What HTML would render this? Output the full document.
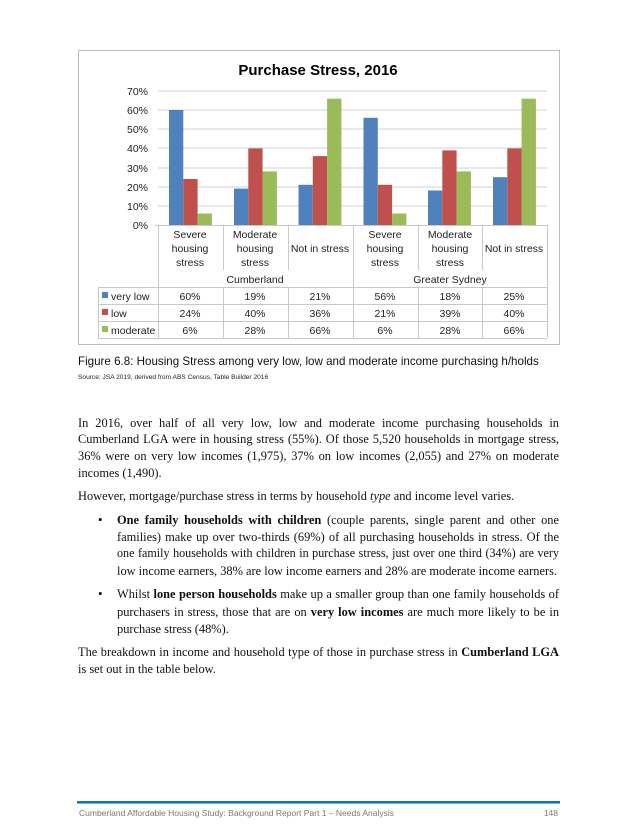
<!DOCTYPE html>
<html><head><meta charset="utf-8"><style>
body{margin:0;background:#fff;}
.page{position:relative;width:637px;height:840px;overflow:hidden;background:#fff;}
.l{position:absolute;left:78px;width:481px;height:18px;line-height:18px;font-family:"Liberation Serif",serif;font-size:12.4px;color:#111;white-space:nowrap;text-align:justify;text-align-last:justify;}
.l.e{text-align-last:left;}
.b{left:117px;width:442px;}
.dot{position:absolute;left:98px;font-family:"Liberation Serif",serif;font-size:13px;line-height:18px;}
.cap{position:absolute;left:78px;top:355px;font-family:"Liberation Sans",sans-serif;font-size:11.6px;color:#111;}
.src{position:absolute;left:78px;top:374px;font-family:"Liberation Sans",sans-serif;font-size:6.6px;color:#222;}
</style></head><body><div class="page">
<svg width="637" height="360" style="position:absolute;left:0;top:0" font-family="Liberation Sans, sans-serif">
<rect x="78.5" y="50.5" width="481" height="294" fill="#fff" stroke="#bbb"/>
<text x="318" y="75" text-anchor="middle" font-size="15" font-weight="bold">Purchase Stress, 2016</text>
<g stroke="#d0d0d0" stroke-width="1">
<line x1="158" y1="91" x2="547" y2="91"/><line x1="158" y1="110" x2="547" y2="110"/><line x1="158" y1="129" x2="547" y2="129"/><line x1="158" y1="148" x2="547" y2="148"/><line x1="158" y1="168" x2="547" y2="168"/><line x1="158" y1="187" x2="547" y2="187"/><line x1="158" y1="206" x2="547" y2="206"/>
</g>
<g font-size="10.5" fill="#222" text-anchor="end">
<text x="148" y="95">70%</text><text x="148" y="114">60%</text><text x="148" y="133">50%</text><text x="148" y="152">40%</text><text x="148" y="172">30%</text><text x="148" y="191">20%</text><text x="148" y="210">10%</text><text x="148" y="229">0%</text>
</g>
<g>
<rect x="169" y="110" width="14.3" height="115" fill="#4f81bd"/><rect x="183.3" y="179" width="14.3" height="46" fill="#c0504d"/><rect x="197.6" y="213.5" width="14.3" height="11.5" fill="#9bbb59"/>
<rect x="234" y="188.6" width="14.3" height="36.4" fill="#4f81bd"/><rect x="248.3" y="148.4" width="14.3" height="76.6" fill="#c0504d"/><rect x="262.6" y="171.4" width="14.3" height="53.6" fill="#9bbb59"/>
<rect x="298.5" y="184.8" width="14.3" height="40.2" fill="#4f81bd"/><rect x="312.8" y="156.1" width="14.3" height="68.9" fill="#c0504d"/><rect x="327.1" y="98.7" width="14.3" height="126.3" fill="#9bbb59"/>
<rect x="363.5" y="117.8" width="14.3" height="107.2" fill="#4f81bd"/><rect x="377.8" y="184.8" width="14.3" height="40.2" fill="#c0504d"/><rect x="392.1" y="213.5" width="14.3" height="11.5" fill="#9bbb59"/>
<rect x="428" y="190.5" width="14.3" height="34.5" fill="#4f81bd"/><rect x="442.3" y="150.4" width="14.3" height="74.6" fill="#c0504d"/><rect x="456.6" y="171.4" width="14.3" height="53.6" fill="#9bbb59"/>
<rect x="493" y="177.2" width="14.3" height="47.8" fill="#4f81bd"/><rect x="507.3" y="148.4" width="14.3" height="76.6" fill="#c0504d"/><rect x="521.6" y="98.7" width="14.3" height="126.3" fill="#9bbb59"/>
</g>
<g stroke="#c8c8c8" stroke-width="1" fill="none">
<line x1="155" y1="225.5" x2="547" y2="225.5"/>
<line x1="158.5" y1="225" x2="158.5" y2="338"/><line x1="547.5" y1="225" x2="547.5" y2="338"/>
<line x1="223.5" y1="225" x2="223.5" y2="270"/><line x1="288.5" y1="225" x2="288.5" y2="270"/><line x1="418.5" y1="225" x2="418.5" y2="270"/><line x1="482.5" y1="225" x2="482.5" y2="270"/>
<line x1="353.5" y1="225" x2="353.5" y2="338"/>
<line x1="223.5" y1="287" x2="223.5" y2="338"/><line x1="288.5" y1="287" x2="288.5" y2="338"/><line x1="418.5" y1="287" x2="418.5" y2="338"/><line x1="482.5" y1="287" x2="482.5" y2="338"/>
<line x1="98" y1="287.5" x2="547" y2="287.5"/><line x1="98" y1="304.5" x2="547" y2="304.5"/><line x1="98" y1="321.5" x2="547" y2="321.5"/><line x1="98" y1="338.5" x2="547" y2="338.5"/>
<line x1="98.5" y1="287" x2="98.5" y2="338"/>
</g>
<g font-size="10.5" fill="#222" text-anchor="middle">
<text x="190" y="238">Severe</text><text x="190" y="252">housing</text><text x="190" y="266">stress</text>
<text x="255" y="238">Moderate</text><text x="255" y="252">housing</text><text x="255" y="266">stress</text>
<text x="320" y="252">Not in stress</text>
<text x="385" y="238">Severe</text><text x="385" y="252">housing</text><text x="385" y="266">stress</text>
<text x="450" y="238">Moderate</text><text x="450" y="252">housing</text><text x="450" y="266">stress</text>
<text x="514" y="252">Not in stress</text>
<text x="255" y="283">Cumberland</text><text x="450" y="283">Greater Sydney</text>
<text x="190" y="300">60%</text><text x="255" y="300">19%</text><text x="320" y="300">21%</text><text x="385" y="300">56%</text><text x="450" y="300">18%</text><text x="514" y="300">25%</text>
<text x="190" y="317">24%</text><text x="255" y="317">40%</text><text x="320" y="317">36%</text><text x="385" y="317">21%</text><text x="450" y="317">39%</text><text x="514" y="317">40%</text>
<text x="190" y="334">6%</text><text x="255" y="334">28%</text><text x="320" y="334">66%</text><text x="385" y="334">6%</text><text x="450" y="334">28%</text><text x="514" y="334">66%</text>
</g>
<rect x="102" y="292" width="6" height="6" fill="#4f81bd"/><rect x="102" y="309" width="6" height="6" fill="#c0504d"/><rect x="102" y="326" width="6" height="6" fill="#9bbb59"/>
<g font-size="10.5" fill="#222"><text x="111" y="300">very low</text><text x="111" y="317">low</text><text x="111" y="334">moderate</text></g>
</svg>
<div class="cap">Figure 6.8: Housing Stress among very low, low and moderate income purchasing h/holds</div>
<div class="src">Source: JSA 2019, derived from ABS Census, Table Builder 2016</div>

<div class="l" style="top:414px">In 2016, over half of all very low, low and moderate income purchasing households in</div>
<div class="l" style="top:430px">Cumberland LGA were in housing stress (55%). Of those 5,520 households in mortgage stress,</div>
<div class="l" style="top:447px">36% were on very low incomes (1,975), 37% on low incomes (2,055) and 27% on moderate</div>
<div class="l e" style="top:464px">incomes (1,490).</div>
<div class="l e" style="top:487px">However, mortgage/purchase stress in terms by household <i>type</i> and income level varies.</div>

<div class="dot" style="top:511px">•</div>
<div class="l b" style="top:511px"><b>One family households with children</b> (couple parents, single parent and other one</div>
<div class="l b" style="top:528px">families) make up over two-thirds (69%) of all purchasing households in stress. Of the</div>
<div class="l b" style="top:544px;font-size:12.1px">one family households with children in purchase stress, just over one third (34%) are very</div>
<div class="l b e" style="top:562px">low income earners, 38% are low income earners and 28% are moderate income earners.</div>

<div class="dot" style="top:585px">•</div>
<div class="l b" style="top:585px">Whilst <b>lone person households</b> make up a smaller group than one family households of</div>
<div class="l b" style="top:603px">purchasers in stress, those that are on <b>very low incomes</b> are much more likely to be in</div>
<div class="l b e" style="top:620px">purchase stress (48%).</div>

<div class="l" style="top:643px">The breakdown in income and household type of those in purchase stress in <b>Cumberland LGA</b></div>
<div class="l e" style="top:660px">is set out in the table below.</div>

<div style="position:absolute;left:77px;top:801px;width:483px;height:2px;background:#1f6e9c"></div>
<div style="position:absolute;left:77px;top:803px;width:483px;height:1px;background:#4fc3f0"></div>
<div style="position:absolute;left:79px;top:808px;font-family:'Liberation Sans',sans-serif;font-size:8.5px;color:#777">Cumberland Affordable Housing Study: Background Report Part 1 – Needs Analysis</div>
<div style="position:absolute;right:79px;top:808px;font-family:'Liberation Sans',sans-serif;font-size:8.5px;color:#777">148</div>
</div></body></html>
